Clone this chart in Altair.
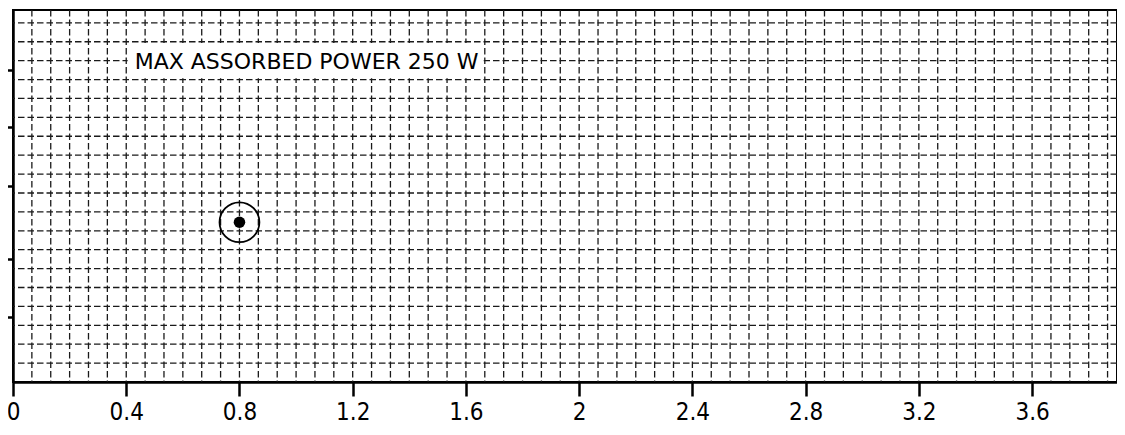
import altair as alt
import pandas as pd

# ---- data ----
x_ticks = [0, 0.4, 0.8, 1.2, 1.6, 2, 2.4, 2.8, 3.2, 3.6]
y_ticks = [3.46, 6.49, 10.39, 13.48, 16.51]
x_grid = [i / 15 for i in range(1, 59)]
y_grid = list(range(1, 20))
point_x = [0.8]
point_y = [8.45]
label_text = ["MAX ASSORBED POWER 250 W"]
label_x = [0.43]
label_y = [16.54]
box_x = [0.405]
box_x2 = [1.662]
box_y = [16.07]
box_y2 = [17.93]

X_DOMAIN = [0, 3.9]
Y_DOMAIN = [0, 19.68]
TICK_FONT = "DejaVu Sans Condensed"
TEXT_FONT = "DejaVu Sans"

xscale = alt.Scale(domain=X_DOMAIN, nice=False, zero=False)
yscale = alt.Scale(domain=Y_DOMAIN, nice=False, zero=False)

xaxis = alt.Axis(values=x_ticks, format="~g", title=None, grid=False,
                 domainColor="black", domainWidth=2.5,
                 tickColor="black", tickWidth=2.5, tickSize=14,
                 labelFont=TICK_FONT, labelFontSize=24, labelColor="black",
                 labelPadding=4, labelFlush=False)
yaxis = alt.Axis(values=y_ticks, labels=False, title=None, grid=False,
                 domainColor="black", domainWidth=2.5,
                 tickColor="black", tickWidth=2.5, tickSize=13)

gx = pd.DataFrame({"x": x_grid})
gy = pd.DataFrame({"y": y_grid})
box = pd.DataFrame({"x": box_x, "x2": box_x2, "y": box_y, "y2": box_y2})
lab = pd.DataFrame({"x": label_x, "y": label_y, "t": label_text})
pts = pd.DataFrame({"x": point_x, "y": point_y})

vgrid = alt.Chart(gx).mark_rule(color="#1a1a1a", strokeWidth=1.3, strokeDash=[6.5, 3]).encode(
    x=alt.X("x:Q", scale=xscale, axis=xaxis)
)
hgrid = alt.Chart(gy).mark_rule(color="#1a1a1a", strokeWidth=1.3, strokeDash=[6.5, 3]).encode(
    y=alt.Y("y:Q", scale=yscale, axis=yaxis)
)
rect = alt.Chart(box).mark_rect(color="white").encode(
    x=alt.X("x:Q", scale=xscale, axis=xaxis), x2="x2",
    y=alt.Y("y:Q", scale=yscale, axis=yaxis), y2="y2"
)
text = alt.Chart(lab).mark_text(align="left", baseline="alphabetic", font=TEXT_FONT,
                                fontSize=22, color="black").encode(
    x=alt.X("x:Q", scale=xscale, axis=xaxis),
    y=alt.Y("y:Q", scale=yscale, axis=yaxis),
    text="t:N"
)
ring = alt.Chart(pts).mark_point(shape="circle", size=1590, filled=False,
                                 color="black", strokeWidth=1.8, opacity=1).encode(
    x=alt.X("x:Q", scale=xscale, axis=xaxis),
    y=alt.Y("y:Q", scale=yscale, axis=yaxis)
)
dot = alt.Chart(pts).mark_point(shape="circle", size=133, filled=True,
                                color="black", opacity=1).encode(
    x=alt.X("x:Q", scale=xscale, axis=xaxis),
    y=alt.Y("y:Q", scale=yscale, axis=yaxis)
)

chart = alt.layer(vgrid, hgrid, rect, text, ring, dot).properties(
    width=1104, height=372,
    autosize=alt.AutoSizeParams(type="none"),
    padding={"left": 5, "top": 2, "right": 0, "bottom": 44},
).configure_view(stroke="black", strokeWidth=2)

chart.save("out.html", embed_options={"renderer": "svg", "actions": False})
